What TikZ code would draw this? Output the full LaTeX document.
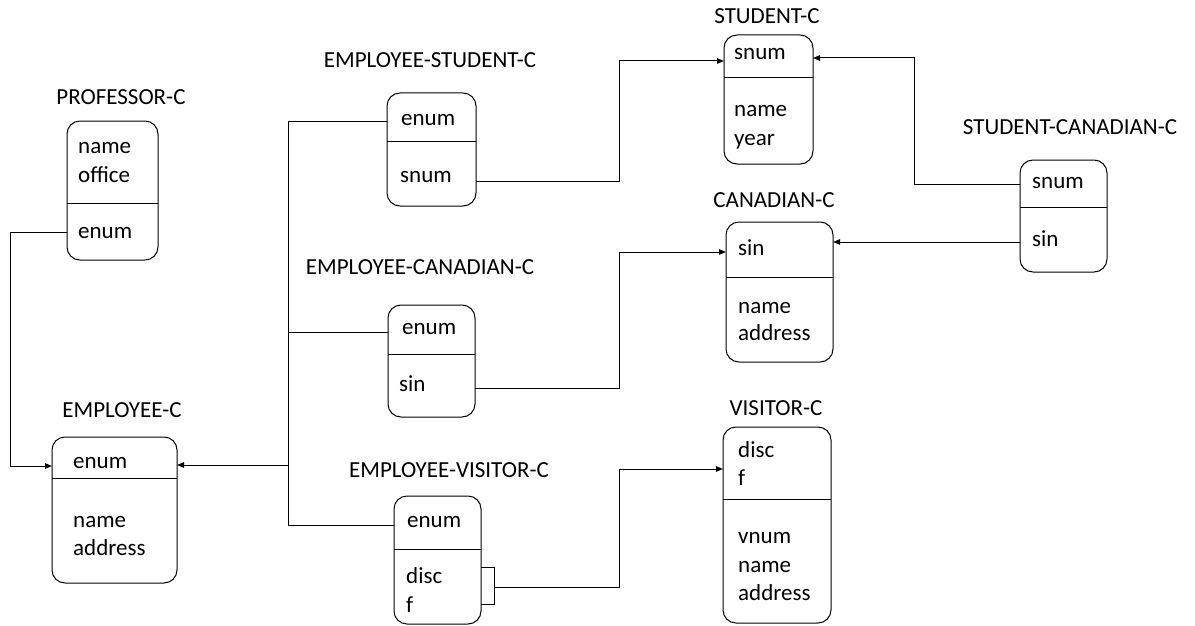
\documentclass[tikz,border=0pt]{standalone}
\usepackage{fontspec}
\setmainfont{Carlito}
\usetikzlibrary{arrows.meta}
\tikzset{
  cls/.style={draw, line width=1pt, rounded corners=13pt, anchor=north west, inner sep=0pt, outer sep=0pt},
  field/.style={anchor=base west, inner sep=0pt, font=\fontsize{23}{28}\selectfont},
  title/.style={anchor=base, inner sep=0pt, font=\fontsize{23}{28}\selectfont},
  link/.style={line width=1pt},
  arr/.style={line width=1pt, -{Triangle[length=7pt,width=5.5pt]}},
}
\newcommand{\clsbox}[6]{% name, left, top, right, bottom, divider
  \node[cls, minimum width=#4pt-#2pt, minimum height=#5pt-#3pt] (#1) at (#2,#3) {};
  \draw[link] (#1.west |- 0,#6) -- (#1.east |- 0,#6);
}
\begin{document}
\begin{tikzpicture}[x=1pt, y=-1pt]
\useasboundingbox (0,0) rectangle (1195,626);

% class boxes
\clsbox{prof}{67}{121}{158}{260}{203}
\clsbox{emp}{52}{437}{177}{583}{478}
\clsbox{es}{387}{93}{476}{206}{141}
\clsbox{ec}{388}{305}{475}{417}{354}
\clsbox{ev}{394}{496}{481}{624}{549}
\clsbox{stu}{724}{35}{813}{164}{78}
\clsbox{sc}{1020}{160}{1107}{272}{207}
\clsbox{can}{726}{222}{833}{362}{277}
\clsbox{vis}{723}{427}{831}{623}{499}

% class names
\node[title] (t-prof) at (121,104) {PROFESSOR-C};
\node[title] (t-emp) at (122,417) {EMPLOYEE-C};
\node[title] (t-es) at (430,67) {EMPLOYEE-STUDENT-C};
\node[title] (t-ec) at (420,274) {EMPLOYEE-CANADIAN-C};
\node[title] (t-ev) at (449,477) {EMPLOYEE-VISITOR-C};
\node[title] (t-stu) at (767,24) {STUDENT-C};
\node[title] (t-sc) at (1070,135) {STUDENT-CANADIAN-C};
\node[title] (t-can) at (774,207) {CANADIAN-C};
\node[title] (t-vis) at (776,415) {VISITOR-C};

% attributes
\node[field] (prof-name) at (78,153) {name};
\node[field] (prof-office) at (78,182) {office};
\node[field] (prof-enum) at (78,238) {enum};

\node[field] (emp-enum) at (73,468) {enum};
\node[field] (emp-name) at (73,527) {name};
\node[field] (emp-addr) at (73,555) {address};

\node[field] (es-enum) at (401,125) {enum};
\node[field] (es-snum) at (400,182) {snum};

\node[field] (ec-enum) at (402,334) {enum};
\node[field] (ec-sin) at (399,391) {sin};

\node[field] (ev-enum) at (407,527) {enum};
\node[field] (ev-disc) at (406,583) {disc};
\node[field] (ev-f) at (406,612) {f};

\node[field] (stu-snum) at (734,60) {snum};
\node[field] (stu-name) at (734,117) {name};
\node[field] (stu-year) at (734,145) {year};

\node[field] (sc-snum) at (1032,188) {snum};
\node[field] (sc-sin) at (1032,246) {sin};

\node[field] (can-sin) at (738,255) {sin};
\node[field] (can-name) at (738,313) {name};
\node[field] (can-addr) at (738,340) {address};

\node[field] (vis-disc) at (738,457) {disc};
\node[field] (vis-f) at (738,485) {f};
\node[field] (vis-vnum) at (738,543) {vnum};
\node[field] (vis-name) at (738,572) {name};
\node[field] (vis-addr) at (738,600) {address};

% PROFESSOR-C.enum -> EMPLOYEE-C
\draw[arr] (prof.west |- 0,232) -- (10,232) -- (10,466) -- (emp.west |- 0,466);

% subclasses of EMPLOYEE-C joined on one trunk
\draw[link] (es.west |- 0,121) -- (288,121) -- (288,525) -- (ev.west |- 0,525);
\draw[link] (288,332) -- (ec.west |- 0,332);
\draw[arr] (288,465) -- (emp.east |- 0,465);

% EMPLOYEE-STUDENT-C.snum -> STUDENT-C
\draw[arr] (es.east |- 0,181) -- (619,181) -- (619,61) -- (stu.west |- 0,61);

% STUDENT-CANADIAN-C -> STUDENT-C and CANADIAN-C
\draw[arr] (sc.west |- 0,184) -- (914,184) -- (914,58) -- (stu.east |- 0,58);
\draw[arr] (sc.west |- 0,242) -- (can.east |- 0,242);

% EMPLOYEE-CANADIAN-C.sin -> CANADIAN-C
\draw[arr] (ec.east |- 0,388) -- (619,388) -- (619,252) -- (can.west |- 0,252);

% EMPLOYEE-VISITOR-C.(disc,f) -> VISITOR-C
\draw[link] (ev.east |- 0,567) -- (494,567) -- (494,604) -- (ev.east |- 0,604);
\draw[arr] (494,587) -- (619,587) -- (619,469) -- (vis.west |- 0,469);
\end{tikzpicture}
\end{document}
